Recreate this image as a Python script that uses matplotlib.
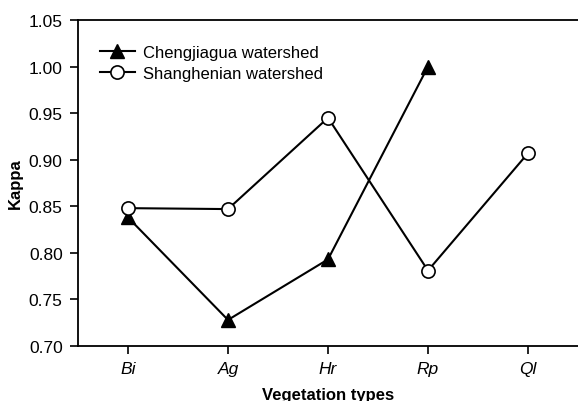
import matplotlib
matplotlib.use("Agg")
import matplotlib.pyplot as plt

categories = ["Bi", "Ag", "Hr", "Rp", "Ql"]
chengjiagua = [0.838, 0.728, 0.793, 1.000]
shanghenian = [0.848, 0.847, 0.945, 0.781, 0.907]
yticks = [0.70, 0.75, 0.80, 0.85, 0.90, 0.95, 1.00, 1.05]

plt.rcParams['font.family'] = ['Liberation Sans', 'DejaVu Sans']

fig = plt.figure(figsize=(5.78, 4.02), dpi=100)
ax = fig.add_axes([78/578, 1-347/402, 1-78/578, (347-21)/402])

x1 = list(range(len(chengjiagua)))
x2 = list(range(len(shanghenian)))
ax.plot(x1, chengjiagua, color='black', lw=1.5, marker='^', ms=10,
        mfc='black', mec='black', label='Chengjiagua watershed')
ax.plot(x2, shanghenian, color='black', lw=1.5, marker='o', ms=9.5,
        mfc='white', mec='black', mew=1.2, label='Shanghenian watershed')

ax.set_xlim(-0.5, 4.5)
ax.set_ylim(0.70, 1.05)
ax.set_yticks(yticks)
ax.set_yticklabels([f"{v:.2f}" for v in yticks], fontsize=12.5)
ax.set_xticks(x2)
ax.set_xticklabels(categories, fontsize=12.5, style='italic')
ax.tick_params(direction='out', length=6, width=1.2, pad=5)
ax.spines['right'].set_visible(False)
for s in ['left', 'bottom', 'top']:
    ax.spines[s].set_linewidth(1.3)

ax.set_ylabel('Kappa', fontsize=12, fontweight='bold', labelpad=4)
ax.set_xlabel('Vegetation types', fontsize=12, fontweight='bold', labelpad=8)

leg = ax.legend(loc='upper left', frameon=False, fontsize=12,
                bbox_to_anchor=(0.01, 0.975), handlelength=2.1,
                handletextpad=0.5, labelspacing=0.35, borderaxespad=0.6)

fig.savefig('out.png', dpi=100)
